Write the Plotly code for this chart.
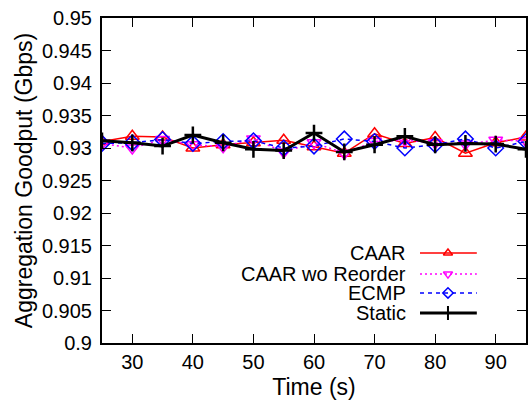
import plotly.graph_objects as go

time_s = [25, 30, 35, 40, 45, 50, 55, 60, 65, 70, 75, 80, 85, 90, 95]
caar = [0.9310, 0.9318, 0.9317, 0.9300, 0.9305, 0.9308, 0.9312, 0.9302, 0.9292, 0.9322, 0.9307, 0.9316, 0.9292, 0.9308, 0.9317]
caar_wo = [0.9307, 0.9300, 0.9313, 0.9305, 0.9302, 0.9314, 0.9294, 0.9308, 0.9292, 0.9310, 0.9312, 0.9308, 0.9306, 0.9312, 0.9311]
ecmp = [0.9307, 0.9308, 0.9313, 0.9307, 0.9310, 0.9311, 0.9300, 0.9303, 0.9314, 0.9310, 0.9300, 0.9305, 0.9314, 0.9300, 0.9310]
static = [0.9311, 0.9308, 0.9303, 0.9320, 0.9308, 0.9298, 0.9296, 0.9323, 0.9294, 0.9305, 0.9318, 0.9305, 0.9307, 0.9306, 0.9298]

series_names = ["CAAR", "CAAR wo Reorder", "ECMP", "Static"]
y_tickvals = [0.9, 0.905, 0.91, 0.915, 0.92, 0.925, 0.93, 0.935, 0.94, 0.945, 0.95]
y_ticktext = ["0.9", "0.905", "0.91", "0.915", "0.92", "0.925", "0.93", "0.935", "0.94", "0.945", "0.95"]
x_tickvals = [30, 40, 50, 60, 70, 80, 90]

styles = [
    dict(color="#ff0000", dash="solid", width=1.5, symbol="triangle-up-open"),
    dict(color="#ff00ff", dash="2px,3px", width=1.5, symbol="triangle-down-open"),
    dict(color="#0000ff", dash="4px,4px", width=1.5, symbol="diamond-open"),
    dict(color="#000000", dash="solid", width=3, symbol="cross-thin-open"),
]
data = [caar, caar_wo, ecmp, static]

FONT = "Liberation Sans, Arial, sans-serif"
fig = go.Figure()
for name, ys, st in zip(series_names, data, styles):
    is_cross = st["symbol"] == "cross-thin-open"
    fig.add_trace(go.Scatter(
        x=time_s, y=ys, mode="lines+markers", name=name, showlegend=False,
        line=dict(color=st["color"], dash=st["dash"], width=st["width"]),
        marker=dict(symbol=st["symbol"], size=12,
                    color=st["color"], line=dict(color=st["color"], width=2.5 if is_cross else 1.5)),
    ))

# custom legend (text left, sample right) drawn on an overlay axis spanning the plot area
leg_rows = [0.277, 0.212, 0.154, 0.092]
for name, st, fy in zip(series_names, styles, leg_rows):
    is_cross = st["symbol"] == "cross-thin-open"
    fig.add_trace(go.Scatter(
        x=[0.75, 0.884], y=[fy, fy], xaxis="x2", yaxis="y2", mode="lines", showlegend=False,
        line=dict(color=st["color"], dash=st["dash"], width=st["width"]), hoverinfo="skip"))
    fig.add_trace(go.Scatter(
        x=[0.816], y=[fy], xaxis="x2", yaxis="y2", mode="markers", showlegend=False,
        marker=dict(symbol=st["symbol"], size=10 if is_cross else 8,
                    color=st["color"], line=dict(color=st["color"], width=2 if is_cross else 1.5)),
        hoverinfo="skip"))
    fig.add_annotation(x=0.722, y=fy, xref="x2", yref="y2", text=name, showarrow=False,
                       xanchor="right", yanchor="middle", font=dict(family=FONT, size=20, color="black"))

axis_common = dict(showgrid=False, zeroline=False, showline=True, linecolor="black", linewidth=2,
                   mirror="ticks", ticks="inside", ticklen=9, tickwidth=1, tickcolor="black",
                   automargin=False, tickfont=dict(family=FONT, size=20, color="black"))
fig.update_layout(
    width=530, height=404,
    margin=dict(l=102, r=4, t=18, b=61, autoexpand=False),
    paper_bgcolor="white", plot_bgcolor="white",
    xaxis=dict(range=[25, 95], tickvals=x_tickvals, ticklabelstandoff=0,
               title=dict(text="Time (s)", font=dict(family=FONT, size=23, color="black"), standoff=7),
               **axis_common),
    yaxis=dict(range=[0.9, 0.95], tickvals=y_tickvals, ticktext=y_ticktext, ticklabelstandoff=4,
               title=dict(text="Aggregation Goodput (Gbps)", font=dict(family=FONT, size=23, color="black"), standoff=3),
               **axis_common),
    xaxis2=dict(overlaying="x", range=[0, 1], visible=False),
    yaxis2=dict(overlaying="y", range=[0, 1], visible=False),
    showlegend=False,
)
fig.write_html("out.html", config={"displayModeBar": False},
               post_script="document.body.style.margin='0';document.body.style.overflow='hidden';")
